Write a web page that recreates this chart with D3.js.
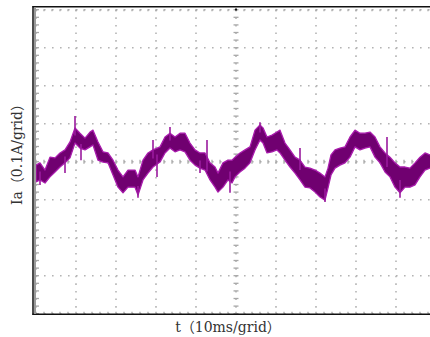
<!DOCTYPE html>
<html>
<head>
<meta charset="utf-8">
<script src="https://cdn.jsdelivr.net/npm/d3@7"></script>
<style>
  body { margin: 0; background: #fff; }
  text { font-family: "DejaVu Serif", "Noto Sans CJK SC", serif; fill: #333; }
</style>
</head>
<body>
<script>
// time axis (ms) and current envelope (mA)
var time = [0, 1, 2.25, 3.5, 4.75, 6, 7.25, 8.5, 9.75, 11, 12.25, 13.5, 14.25, 15.5, 16.75, 18,
    19.25, 20.5, 21.75, 23, 24.75, 25.5, 26.75, 28, 29.25, 31, 32.25, 33.5, 34.75, 36, 37.25,
    38.5, 39.75, 41, 42.25, 43.5, 44.75, 45.5, 46.75, 48, 49, 49.75, 51, 52.25, 53.5, 54.75, 56,
    56.75, 57.75, 59, 60.25, 61, 62.25, 63.5, 64.75, 66, 67.25, 68.5, 69.75, 71, 72.25, 73,
    73.75, 74.75, 76, 77.25, 78.5, 79.75, 81, 82.25, 83.5, 84.75, 86, 87.25, 88.5, 89.75, 91,
    92.25, 93.5, 94.75, 96, 97.25, 98.5, 100];
var upper = [-9, -3, -22, 12, 10, 23, 31, 52, 89, 75, 62, 78, 83, 52, 26, 23,
    4, -22, -40, -22, -22, -40, 4, 23, 31, 39, 65, 75, 65, 75, 75,
    49, 31, 23, 23, -3, -14, -30, -3, 4, 4, 12, 23, 31, 39, 83, 97,
    89, 65, 70, 78, 83, 49, 31, 12, 4, -14, -17, -22, -30, -40, -17,
    18, 31, 36, 39, 65, 83, 75, 75, 78, 65, 39, 23, 12, -3, -14,
    -14, -17, -3, 12, 23, 18, 14];
var lower = [-53, -48, -56, -40, -27, -14, -3, 10, 49, 36, 31, 39, 44, 4, -1, -3,
    -35, -67, -82, -67, -67, -88, -48, -30, -14, -1, 23, 36, 26, 31, 26,
    4, -9, -17, -22, -48, -67, -80, -67, -48, -56, -40, -27, -17, -3, 31, 57,
    49, 23, 26, 31, 23, 4, -14, -30, -48, -67, -69, -80, -93, -101, -69,
    -35, -17, -9, -3, 12, 39, 31, 36, 39, 12, -3, -27, -40, -67, -82,
    -67, -67, -61, -40, -22, -17, -20];
// narrow noise spikes: time (ms) and tip value (mA)
var spikeTime = [1, 7.25, 9.75, 11.25, 25.5, 29.25, 30.25, 33.5, 41, 42.75, 48.5, 56, 66, 72.25, 87.75, 91];
var spikeTip = [-61, -30, 120, 4, -95, 57, -40, 91, -30, 57, -82, 104, 36, -106, 65, -95];

var xTicks = [0, 10, 20, 30, 40, 50, 60, 70, 80, 90, 100];
var yTicks = [-400, -300, -200, -100, 0, 100, 200, 300, 400];
var xMinor = d3.range(0, 101, 2);
var yMinor = d3.range(-400, 401, 20);

var width = 430, height = 337;
var plotLeft = 36, plotRight = 436, plotTop = 9.7, plotBottom = 313.7;

var svg = d3.select("body").append("svg")
    .attr("width", width)
    .attr("height", height);

var x = d3.scaleLinear().domain([0, 100]).range([plotLeft, plotRight]);
var y = d3.scaleLinear().domain([-400, 400]).range([plotBottom, plotTop]);

// dotted grid
var grid = svg.append("g").attr("stroke", "#b4b4b4").attr("stroke-width", 1.6);
grid.selectAll(".gx")
    .data(xTicks)
    .enter().append("line")
    .attr("x1", d => x(d)).attr("x2", d => x(d))
    .attr("y1", plotTop).attr("y2", plotBottom)
    .attr("stroke-dasharray", "1.6,6");
grid.selectAll(".gy")
    .data(yTicks)
    .enter().append("line")
    .attr("x1", plotLeft).attr("x2", plotRight)
    .attr("y1", d => y(d)).attr("y2", d => y(d))
    .attr("stroke-dasharray", "1.6,6.4");

// minor tick marks on the centre lines and the edges
var ticks = svg.append("g").attr("stroke", "#a8a8a8").attr("stroke-width", 1.3);
ticks.selectAll(".cv")
    .data(yMinor)
    .enter().append("line")
    .attr("x1", x(50) - 2.5).attr("x2", x(50) + 2.5)
    .attr("y1", d => y(d)).attr("y2", d => y(d));
ticks.selectAll(".ch")
    .data(xMinor)
    .enter().append("line")
    .attr("x1", d => x(d)).attr("x2", d => x(d))
    .attr("y1", y(0) - 2).attr("y2", y(0) + 2);
ticks.selectAll(".el")
    .data(yMinor)
    .enter().append("line")
    .attr("x1", plotLeft).attr("x2", plotLeft + 3)
    .attr("y1", d => y(d)).attr("y2", d => y(d));
ticks.selectAll(".et")
    .data(xMinor)
    .enter().append("line")
    .attr("x1", d => x(d)).attr("x2", d => x(d))
    .attr("y1", plotTop - 0.5).attr("y2", plotTop + 1.5);
ticks.selectAll(".eb")
    .data(xMinor)
    .enter().append("line")
    .attr("x1", d => x(d)).attr("x2", d => x(d))
    .attr("y1", plotBottom - 2).attr("y2", plotBottom);

// the trace, clipped to the screen
svg.append("clipPath").attr("id", "clip")
    .append("rect").attr("x", plotLeft - 1).attr("y", plotTop)
    .attr("width", plotRight - plotLeft).attr("height", plotBottom - plotTop);

var band = time.map((t, i) => ({ t: t, hi: upper[i], lo: lower[i] }));
var area = d3.area()
    .x(d => x(d.t))
    .y0(d => y(d.lo))
    .y1(d => y(d.hi));

var trace = svg.append("g").attr("clip-path", "url(#clip)");
trace.append("path")
    .datum(band)
    .attr("d", area)
    .attr("fill", "#700070")
    .attr("stroke", "#a81aac")
    .attr("stroke-width", 1.3)
    .attr("stroke-linejoin", "round");

trace.selectAll(".spike")
    .data(spikeTime)
    .enter().append("line")
    .attr("x1", d => x(d)).attr("x2", d => x(d))
    .attr("y1", d => {
        var k = d3.bisectLeft(time, d);
        return y((upper[k] + lower[k]) / 2);
    })
    .attr("y2", (d, i) => y(spikeTip[i]))
    .attr("stroke", "#9a1a9e")
    .attr("stroke-width", 1.6);

// frame
svg.append("line").attr("x1", 32.5).attr("x2", width).attr("y1", 6.8).attr("y2", 6.8)
    .attr("stroke", "#111").attr("stroke-width", 1.5);
svg.append("line").attr("x1", 32.5).attr("x2", width).attr("y1", 314.3).attr("y2", 314.3)
    .attr("stroke", "#111").attr("stroke-width", 1.5);
svg.append("line").attr("x1", 33).attr("x2", 33).attr("y1", 6).attr("y2", 315)
    .attr("stroke", "#111").attr("stroke-width", 1.5);
svg.append("line").attr("x1", 35).attr("x2", 35).attr("y1", 7.5).attr("y2", 314)
    .attr("stroke", "#9a9a9a").attr("stroke-width", 2);
svg.append("rect").attr("x", x(50) - 1).attr("y", 8.5).attr("width", 2).attr("height", 2).attr("fill", "#111");

// axis titles
svg.append("text")
    .attr("x", 228).attr("y", 332)
    .attr("text-anchor", "middle")
    .attr("font-size", 14)
    .text("t（10ms/grid）");
svg.append("text")
    .attr("transform", "translate(22,151) rotate(-90)")
    .attr("text-anchor", "middle")
    .attr("font-size", 14)
    .text("Ia（0.1A/grid）");
</script>
</body>
</html>
